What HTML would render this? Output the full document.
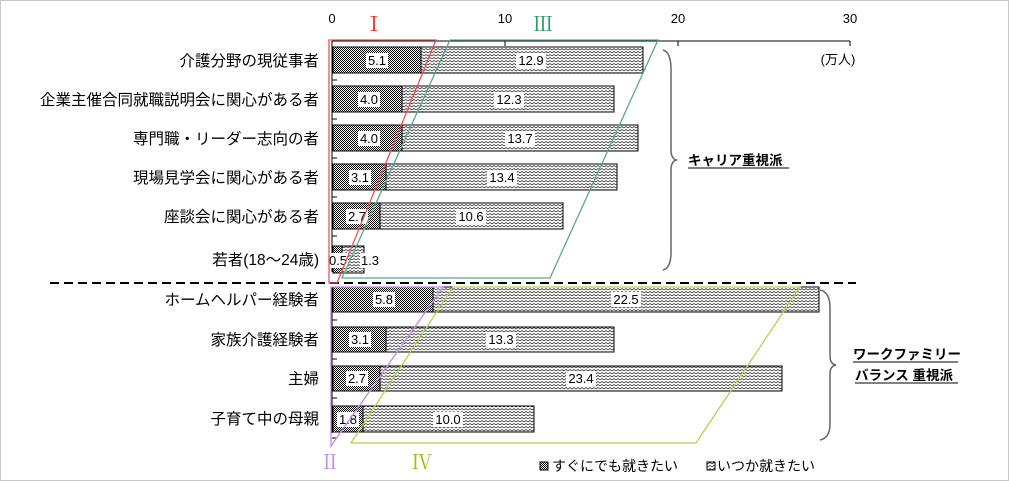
<!DOCTYPE html>
<html><head><meta charset="utf-8"><style>
html,body{margin:0;padding:0;background:#fff;}
svg{display:block;font-family:"Liberation Sans","Noto Sans CJK JP",sans-serif;}
</style></head><body>
<svg width="1009" height="481" viewBox="0 0 1009 481" xmlns="http://www.w3.org/2000/svg">
<defs>
<pattern id="dk" width="2" height="2" patternUnits="userSpaceOnUse">
<rect width="2" height="2" fill="#fff"/><rect width="1" height="1" fill="#000"/><rect x="1" y="1" width="1" height="1" fill="#000"/>
</pattern>
<pattern id="wv" width="8" height="6" patternUnits="userSpaceOnUse">
<rect width="8" height="6" fill="#fff"/>
<path d="M0,2 L2,0.5 L4,2 L6,0.5 L8,2 M0,5 L2,3.5 L4,5 L6,3.5 L8,5" stroke="#000" stroke-width="0.6" fill="none"/>
</pattern>
</defs>
<rect x="0.5" y="0.5" width="1008" height="480" fill="#fff" stroke="#c8c8c8"/>
<g font-size="13" fill="#000">
<text x="332" y="23" text-anchor="middle">0</text>
<text x="505" y="23" text-anchor="middle">10</text>
<text x="678" y="23" text-anchor="middle">20</text>
<text x="850" y="23" text-anchor="middle">30</text>
<text x="838" y="64" text-anchor="middle">(万人)</text>
</g>
<path d="M332,41 H850 M505,41 V46 M678,41 V46 M850,41 V46" stroke="#000" stroke-width="1"/>
<path d="M332,41 V272 M332,287 V433" stroke="#000"/>
<path d="M332,80 h5 M332,119 h5 M332,158 h5 M332,197 h5 M332,236 h5 M332,320 h5 M332,359 h5 M332,398 h5 M332,438 h5" stroke="#000"/>
<g stroke="#000" stroke-width="1" font-size="13" text-anchor="middle">
<rect x="333" y="47" width="88" height="26" fill="url(#dk)"/><rect x="421" y="47" width="222" height="26" fill="url(#wv)"/>
<rect x="366" y="53" width="22" height="15" fill="#fff" stroke="none"/><text x="377" y="65" stroke="none">5.1</text>
<rect x="516" y="53" width="30" height="15" fill="#fff" stroke="none"/><text x="531" y="65" stroke="none">12.9</text>
<rect x="333" y="86" width="69" height="26" fill="url(#dk)"/><rect x="402" y="86" width="212" height="26" fill="url(#wv)"/>
<rect x="358" y="92" width="22" height="15" fill="#fff" stroke="none"/><text x="369" y="104" stroke="none">4.0</text>
<rect x="494" y="92" width="30" height="15" fill="#fff" stroke="none"/><text x="509" y="104" stroke="none">12.3</text>
<rect x="333" y="125" width="69" height="26" fill="url(#dk)"/><rect x="402" y="125" width="236" height="26" fill="url(#wv)"/>
<rect x="358" y="131" width="22" height="15" fill="#fff" stroke="none"/><text x="369" y="143" stroke="none">4.0</text>
<rect x="505" y="131" width="30" height="15" fill="#fff" stroke="none"/><text x="520" y="143" stroke="none">13.7</text>
<rect x="333" y="164" width="53" height="26" fill="url(#dk)"/><rect x="386" y="164" width="231" height="26" fill="url(#wv)"/>
<rect x="349" y="170" width="22" height="15" fill="#fff" stroke="none"/><text x="360" y="182" stroke="none">3.1</text>
<rect x="487" y="170" width="30" height="15" fill="#fff" stroke="none"/><text x="502" y="182" stroke="none">13.4</text>
<rect x="333" y="203" width="47" height="26" fill="url(#dk)"/><rect x="380" y="203" width="183" height="26" fill="url(#wv)"/>
<rect x="346" y="209" width="22" height="15" fill="#fff" stroke="none"/><text x="357" y="221" stroke="none">2.7</text>
<rect x="456" y="209" width="30" height="15" fill="#fff" stroke="none"/><text x="471" y="221" stroke="none">10.6</text>
<rect x="333" y="246" width="9" height="27" fill="url(#dk)"/><rect x="342" y="246" width="22" height="27" fill="url(#wv)"/>
<rect x="328" y="253" width="20" height="15" fill="#fff" stroke="none"/><text x="338" y="265" stroke="none">0.5</text>
<rect x="360" y="253" width="20" height="15" fill="#fff" stroke="none"/><text x="370" y="265" stroke="none">1.3</text>
<rect x="333" y="287" width="100" height="25" fill="url(#dk)"/><rect x="433" y="287" width="386" height="25" fill="url(#wv)"/>
<rect x="373" y="292" width="22" height="15" fill="#fff" stroke="none"/><text x="384" y="304" stroke="none">5.8</text>
<rect x="611" y="292" width="30" height="15" fill="#fff" stroke="none"/><text x="626" y="304" stroke="none">22.5</text>
<rect x="333" y="327" width="53" height="25" fill="url(#dk)"/><rect x="386" y="327" width="228" height="25" fill="url(#wv)"/>
<rect x="349" y="332" width="22" height="15" fill="#fff" stroke="none"/><text x="360" y="344" stroke="none">3.1</text>
<rect x="486" y="332" width="30" height="15" fill="#fff" stroke="none"/><text x="501" y="344" stroke="none">13.3</text>
<rect x="333" y="366" width="47" height="25" fill="url(#dk)"/><rect x="380" y="366" width="402" height="25" fill="url(#wv)"/>
<rect x="346" y="371" width="22" height="15" fill="#fff" stroke="none"/><text x="357" y="383" stroke="none">2.7</text>
<rect x="566" y="371" width="30" height="15" fill="#fff" stroke="none"/><text x="581" y="383" stroke="none">23.4</text>
<rect x="333" y="406" width="30" height="26" fill="url(#dk)"/><rect x="363" y="406" width="171" height="26" fill="url(#wv)"/>
<rect x="337" y="412" width="22" height="15" fill="#fff" stroke="none"/><text x="348" y="424" stroke="none">1.8</text>
<rect x="433" y="412" width="30" height="15" fill="#fff" stroke="none"/><text x="448" y="424" stroke="none">10.0</text>
</g>
<g font-size="15.5" text-anchor="end" fill="#000">
<text x="319" y="66">介護分野の現従事者</text>
<text x="319" y="105">企業主催合同就職説明会に関心がある者</text>
<text x="319" y="144">専門職・リーダー志向の者</text>
<text x="319" y="183">現場見学会に関心がある者</text>
<text x="319" y="222">座談会に関心がある者</text>
<text x="319" y="265">若者(18〜24歳)</text>
<text x="319" y="305">ホームヘルパー経験者</text>
<text x="319" y="345">家族介護経験者</text>
<text x="319" y="384">主婦</text>
<text x="319" y="424">子育て中の母親</text>
</g>
<path d="M50,283 H856" stroke="#000" stroke-width="2" stroke-dasharray="9,5"/>
<polygon points="329,40 436,40 337,283 329,283" fill="none" stroke="#f05050" stroke-width="1.3"/>
<polygon points="450,40 658,40 550,278 342,278" fill="none" stroke="#5aaa8a" stroke-width="1.3"/>
<polygon points="331,287 443,287 331,446" fill="none" stroke="#c08ae8" stroke-width="1.3"/>
<polygon points="453,287 800,287 696,443 351,443" fill="none" stroke="#b5d050" stroke-width="1.3"/>
<g font-family="'Liberation Serif','Noto Serif CJK SC',serif" font-size="20" text-anchor="middle">
<text x="374" y="31" fill="#f02020">Ⅰ</text>
<text x="543" y="31" fill="#2a9a6a">Ⅲ</text>
<text x="330" y="469" fill="#c08ae8">Ⅱ</text>
<text x="422" y="469" fill="#99c010">Ⅳ</text>
</g>
<path d="M663,50 Q671,52 671,70 V150 Q671,158 676,160 Q671,162 671,170 V252 Q671,268 663,270" fill="none" stroke="#666" stroke-width="1.5"/>
<path d="M820,290 Q830,292 830,308 V356 Q830,364 836,365 Q830,366 830,374 V424 Q830,438 820,440" fill="none" stroke="#666" stroke-width="1.5"/>
<g font-size="13.5" font-weight="bold" fill="#000">
<text x="688" y="165">キャリア重視派</text>
<path d="M688,168 H789" stroke="#000"/>
<text x="853" y="359">ワークファミリー</text>
<path d="M853,362 H958" stroke="#000"/>
<text x="855" y="380">バランス 重視派</text>
<path d="M855,383 H958" stroke="#000"/>
</g>
<rect x="540" y="462" width="8" height="8" fill="url(#dk)" stroke="#000"/>
<text x="552" y="471" font-size="14">すぐにでも就きたい</text>
<rect x="707" y="462" width="8" height="8" fill="url(#wv)" stroke="#000"/>
<text x="717" y="471" font-size="14">いつか就きたい</text>
</svg>
</body></html>
